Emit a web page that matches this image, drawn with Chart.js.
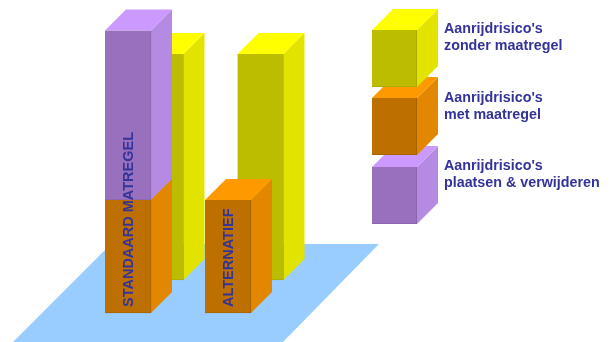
<!DOCTYPE html>
<html>
<head>
<meta charset="utf-8">
<style>
    html, body { margin: 0; padding: 0; background: #fff; }
    canvas { display: block; }
</style>
<script src="https://cdn.jsdelivr.net/npm/chart.js@4/dist/chart.umd.js"></script>
</head>
<body>
<canvas id="risicoChart" width="611" height="342"></canvas>
<script>
const categories = ['STANDAARD MATREGEL', 'ALTERNATIEF'];
const metMaatregel = [1, 1];
const plaatsen = [1.5, null];
const zonderMaatregel = [2, 2];
const legendLabels = [
    ["Aanrijdrisico's", 'zonder maatregel'],
    ["Aanrijdrisico's", 'met maatregel'],
    ["Aanrijdrisico's", 'plaatsen & verwijderen']
];

const TEXT_COLOR = '#333399';
const DEPTH = 21;

const YELLOW = { front: '#bdbd00', side: '#e3e300', top: '#ffff00', edge: '#adad00' };
const ORANGE = { front: '#bd7000', side: '#e38600', top: '#ff9900', edge: '#a86300' };
const PURPLE = { front: '#9970bd', side: '#b58ae3', top: '#cc99ff', edge: '#8c66ad' };

const toPoints = (values) => values.map((v, i) => ({ x: i, y: v }));

const polygon = (ctx, color, points) => {
    ctx.fillStyle = color;
    ctx.beginPath();
    points.forEach(([x, y], i) => (i ? ctx.lineTo(x, y) : ctx.moveTo(x, y)));
    ctx.closePath();
    ctx.fill();
};

const drawSide = (ctx, colors, right, top, bottom) => {
    polygon(ctx, colors.side, [[right, top], [right + DEPTH, top - DEPTH], [right + DEPTH, bottom - DEPTH], [right, bottom]]);
};

const drawTop = (ctx, colors, left, right, top) => {
    polygon(ctx, colors.top, [[left, top], [left + DEPTH, top - DEPTH], [right + DEPTH, top - DEPTH], [right, top]]);
};

// blue ground plane under the bars, sheared at 45 degrees
const floorPlugin = {
    id: 'floor',
    beforeDatasetsDraw(chart) {
        const { x, y } = chart.scales;
        const near = y.getPixelForValue(-0.2566);
        const far = y.getPixelForValue(0.61);
        const left = x.getPixelForValue(-1.15);
        const right = x.getPixelForValue(1.55);
        const shift = near - far;
        polygon(chart.ctx, '#99ccff', [[left, near], [left + shift, far], [right + shift - 2, far], [right, near]]);
    }
};

const boxPlugin = {
    id: 'boxFaces',
    beforeDatasetDraw(chart, args) {
        const dataset = chart.data.datasets[args.index];
        args.meta.data.forEach((bar, i) => {
            if (bar.height === 0 || Math.abs(bar.base - bar.y) < 1) return;
            const half = bar.width / 2;
            drawSide(chart.ctx, dataset.faces, bar.x + half, bar.y, bar.base);
            // a bar stacked on top hides this one's lid
            if (!dataset.cappedBy || dataset.cappedBy[i] == null) {
                drawTop(chart.ctx, dataset.faces, bar.x - half, bar.x + half, bar.y);
            }
        });
    }
};

// category names written upwards inside the front bars
const categoryLabelPlugin = {
    id: 'categoryLabels',
    afterDatasetsDraw(chart) {
        const { ctx, scales } = chart;
        ctx.save();
        ctx.fillStyle = TEXT_COLOR;
        ctx.font = 'bold 14.5px "Liberation Sans", Arial, sans-serif';
        ctx.textAlign = 'left';
        ctx.textBaseline = 'middle';
        categories.forEach((name, i) => {
            ctx.save();
            ctx.translate(scales.x.getPixelForValue(i) + 1, scales.y.getPixelForValue(0) - 6);
            ctx.rotate(-Math.PI / 2);
            ctx.fillText(name, 0, 0);
            ctx.restore();
        });
        ctx.restore();
    }
};

const keyPlugin = {
    id: 'boxKey',
    afterDraw(chart) {
        const ctx = chart.ctx;
        const left = 372, width = 45, height = 57;
        const rows = [
            { colors: PURPLE, top: 167, lines: legendLabels[2], baseline: 170 },
            { colors: ORANGE, top: 98, lines: legendLabels[1], baseline: 102 },
            { colors: YELLOW, top: 30, lines: legendLabels[0], baseline: 33 }
        ];
        ctx.save();
        rows.forEach((row) => {
            drawSide(ctx, row.colors, left + width, row.top, row.top + height);
            drawTop(ctx, row.colors, left, left + width, row.top);
            ctx.fillStyle = row.colors.front;
            ctx.fillRect(left, row.top, width, height);
            ctx.fillStyle = row.colors.edge;
            ctx.fillRect(left, row.top + height - 1, width, 1);
            ctx.fillRect(left + width - 1, row.top, 1, height);
            ctx.fillStyle = TEXT_COLOR;
            ctx.font = 'bold 14.3px "Liberation Sans", Arial, sans-serif';
            ctx.textAlign = 'left';
            ctx.textBaseline = 'alphabetic';
            row.lines.forEach((line, i) => ctx.fillText(line, 444, row.baseline + i * 17));
        });
        ctx.restore();
    }
};

const barDataset = (label, values, colors, order, xAxisID, yAxisID, cappedBy) => ({
    label,
    data: toPoints(values),
    faces: colors,
    cappedBy,
    backgroundColor: colors.front,
    borderColor: colors.edge,
    borderWidth: { top: 0, left: 0, right: 1, bottom: 1 },
    borderSkipped: false,
    barThickness: 46,
    grouped: false,
    order,
    xAxisID,
    yAxisID
});

const hiddenAxis = (min, max, stacked) => ({ type: 'linear', display: false, offset: false, min, max, stacked });

new Chart(document.getElementById('risicoChart').getContext('2d'), {
    type: 'bar',
    data: {
        datasets: [
            // stacks follow dataset order, drawing runs the other way
            barDataset('met maatregel', metMaatregel, ORANGE, 1, 'x', 'y', plaatsen),
            barDataset('plaatsen & verwijderen', plaatsen, PURPLE, 2, 'x', 'y'),
            barDataset('zonder maatregel', zonderMaatregel, YELLOW, 3, 'x2', 'y2')
        ]
    },
    options: {
        responsive: false,
        animation: false,
        layout: { padding: 0 },
        plugins: { legend: { display: false }, tooltip: { enabled: false } },
        scales: {
            // one category = 100px, one unit of risk = 113px; the rear row sits back along the floor
            x: hiddenAxis(-1.28, 4.83, true),
            y: hiddenAxis(-0.2566, 2.7699, true),
            x2: hiddenAxis(-1.605, 4.505, true),
            y2: hiddenAxis(-0.5487, 2.4779, true)
        }
    },
    plugins: [floorPlugin, boxPlugin, categoryLabelPlugin, keyPlugin]
});
</script>
</body>
</html>
